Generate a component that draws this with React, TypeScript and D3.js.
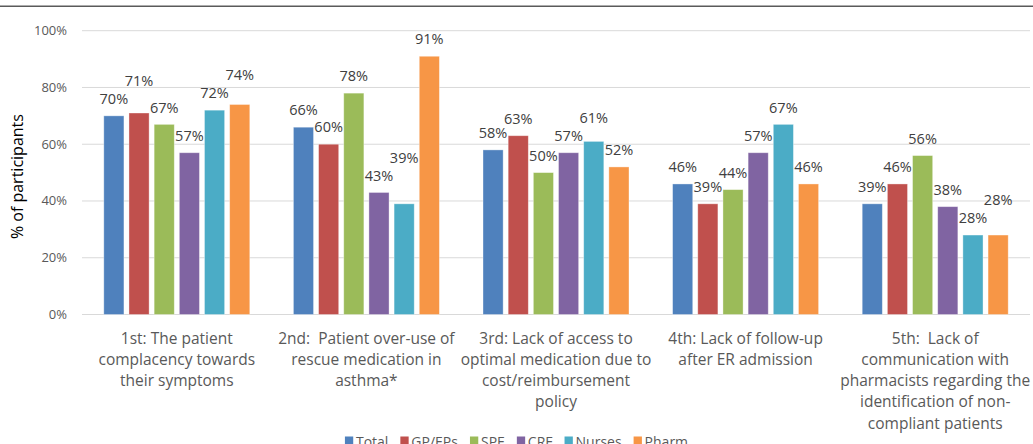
import React, { useEffect, useRef } from "react";
import * as d3 from "d3";

const categoryLines: string[][] = [
  ["1st: The patient", "complacency towards", "their symptoms"],
  ["2nd:  Patient over-use of", "rescue medication in", "asthma*"],
  ["3rd: Lack of access to", "optimal medication due to", "cost/reimbursement", "policy"],
  ["4th: Lack of follow-up", "after ER admission"],
  ["5th:  Lack of", "communication with", "pharmacists regarding the", "identification of non-", "compliant patients"],
];

const seriesNames = ["Total", "GP/EPs", "SPE", "CRF", "Nurses", "Pharm"];
const seriesColors = ["#4F81BD", "#C0504D", "#9BBB59", "#8064A2", "#4BACC6", "#F79646"];

const totalValues = [70, 66, 58, 46, 39];
const gpValues = [71, 60, 63, 39, 46];
const speValues = [67, 78, 50, 44, 56];
const crfValues = [57, 43, 57, 57, 38];
const nursesValues = [72, 39, 61, 67, 28];
const pharmValues = [74, 91, 52, 46, 28];

const seriesValues = [totalValues, gpValues, speValues, crfValues, nursesValues, pharmValues];

const yTicks = [0, 20, 40, 60, 80, 100];

const W = 1033;
const H = 444;
const FONT = "'Open Sans', sans-serif";
const TEXT = "#595959";

export default function App() {
  const ref = useRef<SVGSVGElement>(null);

  useEffect(() => {
    const svg = d3.select(ref.current);
    svg.selectAll("*").remove();

    const left = 82, right = 1030, top = 30.7, bottom = 314.5;
    const x0 = d3.scaleBand<number>().domain(d3.range(categoryLines.length)).range([left, right]).padding(0);
    const groupPad = 21.8;
    const x1 = d3
      .scaleBand<number>()
      .domain(d3.range(seriesNames.length))
      .range([groupPad, x0.bandwidth() - groupPad])
      .paddingInner(0.2)
      .paddingOuter(0);
    const y = d3.scaleLinear().domain([0, 100]).range([bottom, top]);

    // top border
    svg.append("line").attr("x1", 0).attr("x2", W).attr("y1", 6.3).attr("y2", 6.3)
      .attr("stroke", "#5a5a5a").attr("stroke-width", 1.5);

    // gridlines
    svg.append("g").selectAll("line").data(yTicks).join("line")
      .attr("x1", left).attr("x2", right)
      .attr("y1", (d) => y(d)).attr("y2", (d) => y(d))
      .attr("stroke", "#d9d9d9").attr("stroke-width", 1);

    // y tick labels
    svg.append("g").selectAll("text").data(yTicks).join("text")
      .attr("x", 67).attr("y", (d) => y(d) + 4.5)
      .attr("text-anchor", "end")
      .attr("font-family", FONT).attr("font-size", 13).attr("fill", TEXT)
      .text((d) => d + "%");

    // y title
    svg.append("text")
      .attr("transform", `translate(23,${(top + bottom) / 2 + 4}) rotate(-90)`)
      .attr("text-anchor", "middle")
      .attr("font-family", FONT).attr("font-size", 16).attr("fill", "#000")
      .text("% of participants");

    // bars and labels
    categoryLines.forEach((_, ci) => {
      const g = svg.append("g").attr("transform", `translate(${x0(ci)},0)`);
      let prevCenter: number | null = null;
      seriesNames.forEach((_, si) => {
        const v = seriesValues[si][ci];
        const bx = x1(si)!;
        g.append("rect")
          .attr("x", bx).attr("y", y(v))
          .attr("width", x1.bandwidth()).attr("height", y(0) - y(v))
          .attr("fill", seriesColors[si])
          .attr("stroke", "#ffffff").attr("stroke-opacity", 0.45).attr("stroke-width", 0.8);
        let c = y(v) - 17;
        if (prevCenter !== null && Math.abs(c - prevCenter) < 14) {
          c = Math.min(c, prevCenter - 18);
        }
        prevCenter = c;
        g.append("text")
          .attr("x", bx + x1.bandwidth() / 2).attr("y", c + 5.2)
          .attr("text-anchor", "middle")
          .attr("font-family", FONT).attr("font-size", 14.5).attr("fill", "#404040")
          .text(v + "%");
      });
    });

    // category labels
    categoryLines.forEach((lines, ci) => {
      const cx = x0(ci)! + x0.bandwidth() / 2;
      const t = svg.append("text")
        .attr("text-anchor", "middle")
        .style("white-space", "pre")
        .attr("font-family", FONT).attr("font-size", 15.5).attr("fill", TEXT);
      lines.forEach((ln, li) => {
        t.append("tspan").attr("x", cx).attr("y", 343.5 + li * 21.3).text(ln);
      });
    });

    // legend
    const lg = svg.append("g");
    const items = seriesNames.map((name, i) => {
      const it = lg.append("g");
      it.append("rect").attr("x", 0).attr("y", 436.5).attr("width", 8.3).attr("height", 7.5).attr("fill", seriesColors[i]);
      const tx = it.append("text").attr("x", 11).attr("y", 446.5)
        .attr("font-family", FONT).attr("font-size", 14).attr("fill", TEXT).text(name);
      const w = (tx.node() as SVGTextElement).getComputedTextLength();
      return { it, w: 11 + w };
    });
    const gap = 12;
    const total = d3.sum(items, (d) => d.w) + gap * (items.length - 1);
    let cx = W / 2 - total / 2;
    items.forEach((d) => {
      d.it.attr("transform", `translate(${cx},0)`);
      cx += d.w + gap;
    });
  }, []);

  return (
    <div style={{ position: "absolute", left: 0, top: 0, width: W, height: H, background: "#fff" }}>
      <svg ref={ref} width={W} height={H} style={{ display: "block", overflow: "hidden" }} />
    </div>
  );
}
